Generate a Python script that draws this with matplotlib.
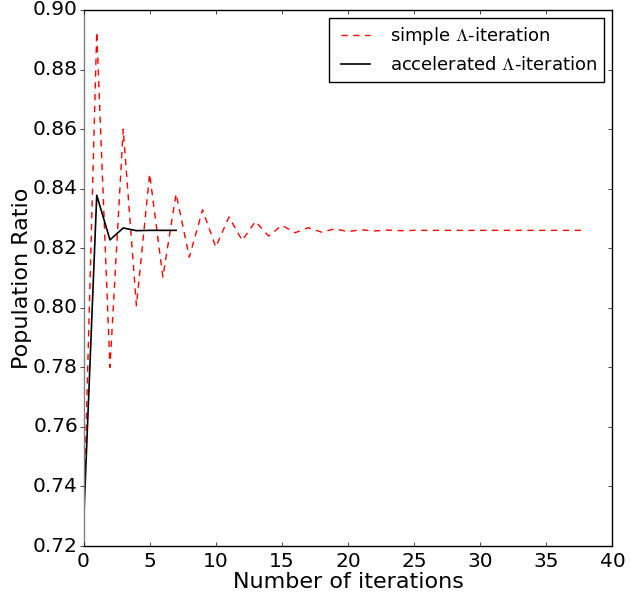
import matplotlib
matplotlib.use("Agg")
import matplotlib.pyplot as plt
from matplotlib import lines as mlines

# Population ratio per iteration
simple_iter = list(range(0, 39))
simple_ratio = [
    0.727, 0.8927, 0.780, 0.860, 0.8007, 0.845, 0.8103, 0.8383, 0.817, 0.8329,
    0.8204, 0.8305, 0.8226, 0.829, 0.8241, 0.8277, 0.8252, 0.8269, 0.8254, 0.8265,
    0.8256, 0.8262, 0.8258, 0.8261, 0.8259, 0.8260, 0.8260, 0.8260, 0.8260, 0.8260,
    0.8260, 0.8260, 0.8260, 0.8260, 0.8260, 0.8260, 0.8260, 0.8260, 0.8260,
]
accel_iter = list(range(0, 8))
accel_ratio = [0.727, 0.8378, 0.8228, 0.8268, 0.8259, 0.8260, 0.8260, 0.8260]

y_ticks = [0.72 + 0.02 * i for i in range(10)]

plt.style.use("classic")
plt.rcParams["figure.facecolor"] = "white"
plt.rcParams["savefig.facecolor"] = "white"

fig = plt.figure(figsize=(6.39, 6.02), dpi=100)
ax = fig.add_axes([0.1307, 0.093, 0.8278, 0.8904])

ax.plot(simple_iter, simple_ratio, color="red", linestyle="--",
        dashes=(4.5, 4), linewidth=1, label=r"simple $\Lambda$-iteration")
ax.plot(accel_iter, accel_ratio, color="black", linewidth=1.2,
        label=r"accelerated $\Lambda$-iteration")

ax.set_xlim(0, 40)
ax.set_ylim(0.72, 0.90)
ax.set_xticks(range(0, 41, 5))
ax.set_yticks(y_ticks)
ax.set_yticklabels([f"{v:.2f}" for v in y_ticks])
ax.tick_params(labelsize=14.5, length=3, direction="in")
# left ticks stick out of the frame in the reference
for tick in ax.yaxis.get_major_ticks():
    tick.tick1line.set_marker(mlines.TICKLEFT)
ax.spines["left"].set_color("0.5")

ax.set_xlabel("Number of iterations", fontsize=16, labelpad=1)
ax.set_ylabel("Population Ratio", fontsize=16, labelpad=1)

leg = ax.legend(loc="upper right", fontsize=13, handlelength=2.2,
                fancybox=False, borderaxespad=0.45)
leg.get_frame().set_linewidth(1)

fig.savefig("out.png", dpi=100)
